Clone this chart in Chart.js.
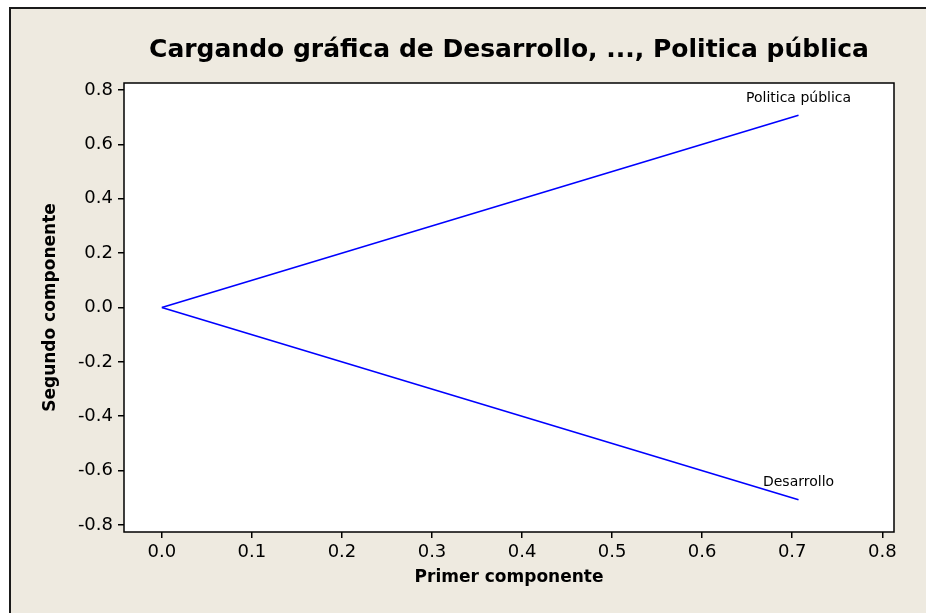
<!DOCTYPE html>
<html>
<head>
<meta charset="utf-8">
<script src="https://cdn.jsdelivr.net/npm/chart.js@4/dist/chart.umd.min.js"></script>
<style>
  html, body { margin: 0; padding: 0; background: #ffffff; }
  #wrap { width: 926px; height: 613px; }
</style>
</head>
<body>
<div id="wrap"><canvas id="myChart" width="926" height="613"></canvas></div>
<script>
// loadings of each variable on the first two components
var variables = ['Desarrollo', 'Politica pública'];
var primer = [0.707, 0.707];
var segundo = [-0.707, 0.707];

var xTicks = [0.0, 0.1, 0.2, 0.3, 0.4, 0.5, 0.6, 0.7, 0.8];
var yTicks = [-0.8, -0.6, -0.4, -0.2, 0.0, 0.2, 0.4, 0.6, 0.8];

var FONT = 'DejaVu Sans';

// one line from the origin to each variable's loading
var datasets = variables.map(function (name, i) {
    return {
        label: name,
        data: [{ x: 0, y: 0 }, { x: primer[i], y: segundo[i] }],
        borderColor: '#0000ff',
        borderWidth: 1.6,
        pointRadius: 0,
        showLine: true,
        fill: false
    };
});

var frame = {
    id: 'frame',
    beforeDraw: function (chart) {
        var ctx = chart.ctx;
        var a = chart.chartArea;
        ctx.save();
        ctx.fillStyle = '#ffffff';
        ctx.fillRect(0, 0, chart.width, chart.height);
        ctx.fillStyle = '#eeeae0';
        ctx.fillRect(10, 7, chart.width - 10, chart.height - 7);
        ctx.strokeStyle = '#1a1a1a';
        ctx.lineWidth = 2;
        ctx.beginPath();
        ctx.moveTo(10, chart.height);
        ctx.lineTo(10, 8);
        ctx.lineTo(chart.width, 8);
        ctx.stroke();
        ctx.fillStyle = '#ffffff';
        ctx.fillRect(a.left, a.top, a.right - a.left, a.bottom - a.top);
        ctx.restore();
    },
    afterDraw: function (chart) {
        var ctx = chart.ctx;
        var a = chart.chartArea;
        ctx.save();
        ctx.strokeStyle = '#000000';
        ctx.lineWidth = 1.5;
        ctx.strokeRect(a.left, a.top, a.right - a.left, a.bottom - a.top);
        ctx.restore();
    }
};

// variable names above the end of each line
var pointLabels = {
    id: 'pointLabels',
    afterDatasetsDraw: function (chart) {
        var ctx = chart.ctx;
        var xs = chart.scales.x, ys = chart.scales.y;
        ctx.save();
        ctx.font = '14px "' + FONT + '"';
        ctx.fillStyle = '#000000';
        ctx.textAlign = 'center';
        ctx.textBaseline = 'middle';
        variables.forEach(function (name, i) {
            ctx.fillText(name, xs.getPixelForValue(primer[i]), ys.getPixelForValue(segundo[i]) - 17);
        });
        ctx.restore();
    }
};

new Chart(document.getElementById('myChart').getContext('2d'), {
    type: 'scatter',
    data: { datasets: datasets },
    options: {
        responsive: false,
        animation: false,
        layout: { padding: { left: 0, right: 32, top: 0, bottom: 0 } },
        plugins: {
            legend: { display: false },
            tooltip: { enabled: false },
            title: {
                display: true,
                fullSize: false,
                text: 'Cargando gráfica de Desarrollo, ..., Politica pública',
                color: '#000000',
                font: { family: FONT, size: 25, weight: 'bold' },
                padding: { top: 35, bottom: 18 }
            }
        },
        scales: {
            x: {
                type: 'linear',
                min: -0.042,
                max: 0.813,
                afterBuildTicks: function (scale) {
                    scale.ticks = xTicks.map(function (v) { return { value: v }; });
                },
                afterFit: function (scale) { scale.height = 81; },
                border: { display: false },
                grid: { drawOnChartArea: false, drawTicks: true, tickLength: 6, color: '#000000', lineWidth: 1.5 },
                ticks: {
                    color: '#000000',
                    font: { family: FONT, size: 18 },
                    padding: 4,
                    maxRotation: 0,
                    callback: function (v) { return v.toFixed(1); }
                },
                title: {
                    display: true,
                    text: 'Primer componente',
                    color: '#000000',
                    font: { family: FONT, size: 17, weight: 'bold' },
                    padding: { top: 0, bottom: 25 }
                }
            },
            y: {
                type: 'linear',
                min: -0.826,
                max: 0.826,
                afterBuildTicks: function (scale) {
                    scale.ticks = yTicks.map(function (v) { return { value: v }; });
                },
                afterFit: function (scale) { scale.width = 124; },
                border: { display: false },
                grid: { drawOnChartArea: false, drawTicks: true, tickLength: 6, color: '#000000', lineWidth: 1.5 },
                ticks: {
                    color: '#000000',
                    font: { family: FONT, size: 18 },
                    padding: 5,
                    callback: function (v) { return v.toFixed(1); }
                },
                title: {
                    display: true,
                    text: 'Segundo componente',
                    color: '#000000',
                    font: { family: FONT, size: 17, weight: 'bold' },
                    padding: { top: 40, bottom: 0 }
                }
            }
        }
    },
    plugins: [frame, pointLabels]
});
</script>
</body>
</html>
